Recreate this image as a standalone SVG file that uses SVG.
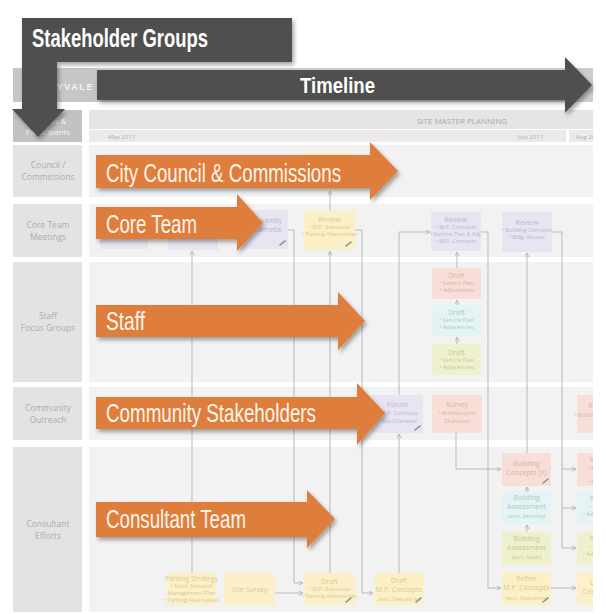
<svg xmlns="http://www.w3.org/2000/svg" width="606" height="614" viewBox="0 0 606 614">
<defs>
<style>
.row{fill:#f3f2f3}
.lab{fill:#e4e2e2}
.lt{font-family:"Open Sans","Noto Sans",sans-serif;font-size:8.5px;fill:#adadad;text-anchor:middle}
.bx text{font-family:"Open Sans","Noto Sans",sans-serif;font-size:5.6px;text-anchor:middle}
.bx text.h{font-size:7px}
.pu rect{fill:#e8e4f1}.pu text{fill:#bcb4d2}
.ye rect{fill:#fcf0c9}.ye text{fill:#d8c994}
.sa rect{fill:#f7ded6}.sa text{fill:#dab2a5}
.cy rect{fill:#e4f4f4}.cy text{fill:#abcaca}
.gr rect{fill:#eff0ce}.gr text{fill:#c8ca96}
.pen{stroke:#8a8a8a;stroke-width:1.6;stroke-linecap:round}
.cn{fill:none;stroke:#b9b9b9;stroke-width:1}
.cn path{marker-end:url(#ah)}
.oa{fill:#df7d3d;filter:url(#sh)}
.ot{font-family:"Liberation Sans",Arial,sans-serif;font-size:25px;fill:#fff5e9}
.da{fill:#4f4f4f;filter:url(#sh)}
.dt{font-family:"Liberation Sans",Arial,sans-serif;font-weight:bold;fill:#ffffff}
</style>
<marker id="ah" viewBox="0 0 6 6" refX="5.5" refY="3" markerWidth="5" markerHeight="5" orient="auto" markerUnits="userSpaceOnUse"><path d="M0.5,0.5 L5.5,3 L0.5,5.5" fill="none" stroke="#b5b5b5" stroke-width="1"/></marker>
<filter id="sh" x="-10%" y="-30%" width="125%" height="170%"><feDropShadow dx="2" dy="3" stdDeviation="2.2" flood-color="#000" flood-opacity="0.35"/></filter>
<clipPath id="cl"><rect x="0" y="0" width="593" height="614"/></clipPath>
</defs>
<rect width="606" height="614" fill="#ffffff"/>

<g id="header">
<rect x="13" y="68" width="580" height="34" fill="#cdcdcd"/>
<rect x="13" y="68" width="84" height="34" fill="#c6c6c6"/>
<text x="94" y="90" text-anchor="end" font-family="Liberation Sans,Arial,sans-serif" font-weight="bold" font-size="9" letter-spacing="1.6" fill="#f2f2f2">SUNNYVALE</text>
<rect x="13" y="110" width="69" height="32" fill="#c2c2c2"/>
<text x="48" y="124" text-anchor="middle" font-family="Open Sans,sans-serif" font-size="8" fill="#f4f4f4">Process &amp;</text>
<text x="48" y="135" text-anchor="middle" font-family="Open Sans,sans-serif" font-size="8" fill="#f4f4f4">Participants</text>
<rect x="89" y="110" width="504" height="19" fill="#e6e4e4"/>
<text x="462" y="124" text-anchor="middle" font-family="Open Sans,sans-serif" font-size="8" fill="#a9a9a9">SITE MASTER PLANNING</text>
<rect x="89" y="130" width="477" height="12" fill="#ebe9e9"/>
<rect x="569" y="130" width="24" height="12" fill="#ebe9e9"/>
<text x="108" y="139" font-family="Open Sans,sans-serif" font-size="6" fill="#b0b0b0">May 2017</text>
<text x="518" y="139" font-family="Open Sans,sans-serif" font-size="6" fill="#b0b0b0">July 2017</text>
<text x="576" y="139" font-family="Open Sans,sans-serif" font-size="6" fill="#b0b0b0" clip-path="url(#cl)">Aug 2017</text>
</g>

<g id="rows">
<rect class="lab" x="13" y="145" width="69" height="52"/><rect class="row" x="89" y="145" width="504" height="52"/>
<text class="lt" x="48" y="168">Council /</text><text class="lt" x="48" y="180">Commissions</text>
<rect class="lab" x="13" y="204" width="69" height="53"/><rect class="row" x="89" y="204" width="504" height="53"/>
<text class="lt" x="48" y="228">Core Team</text><text class="lt" x="48" y="240">Meetings</text>
<rect class="lab" x="13" y="262" width="69" height="120"/><rect class="row" x="89" y="262" width="504" height="120"/>
<text class="lt" x="48" y="319">Staff</text><text class="lt" x="48" y="331">Focus Groups</text>
<rect class="lab" x="13" y="387" width="69" height="53"/><rect class="row" x="89" y="387" width="504" height="53"/>
<text class="lt" x="48" y="411">Community</text><text class="lt" x="48" y="423">Outreach</text>
<rect class="lab" x="13" y="447" width="69" height="165"/><rect class="row" x="89" y="447" width="504" height="165"/>
<text class="lt" x="48" y="527">Consultant</text><text class="lt" x="48" y="539">Efforts</text>
</g>

<g class="cn" id="connectors">
<path d="M192,573 V251"/>
<path d="M288,230 H294 V583 H303"/>
<path d="M275,593 H303"/>
<path d="M330,573 V251"/>
<path d="M330,210 V191"/>
<path d="M355,230 H362 V593 H373"/>
<path d="M399,573 V434"/>
<path d="M399,395 V232 H430"/>
<path d="M481,232 H488 V588 H501"/>
<path d="M457,268 V252"/>
<path d="M457,305 V300"/>
<path d="M457,344 V337"/>
<path d="M456,433 V469 H501"/>
<path d="M527,453 V253"/>
<path d="M527,492 V487"/>
<path d="M527,532 V525"/>
<path d="M552,232 H562 V548" style="marker-end:none"/>
<path d="M562,469 H576"/>
<path d="M562,508 H576"/>
<path d="M562,548 H576"/>
<path d="M551,588 H576"/>
</g>

<g id="council-box" class="bx ye"><rect x="303" y="152" width="52" height="38"/></g>
<g id="core-1" class="bx pu"><rect x="100" y="212" width="48" height="37"/></g>
<g id="core-2" class="bx pu"><rect x="168" y="212" width="50" height="38"/></g>
<g id="feasibility" class="bx pu"><rect x="243" y="210" width="45" height="39"/><text class="h" x="266" y="223">Feasibility</text><text class="h" x="266" y="232">Charrette</text><path class="pen" d="M280,245 L285,241"/></g>
<g id="review-a" class="bx ye"><rect x="304" y="210" width="51" height="40"/><text class="h" x="329.5" y="222">Review</text><text x="329.5" y="229">• M.P. Scenarios</text><text x="329.5" y="236">• Parking Alternatives</text><path class="pen" d="M346,246 L351,242"/></g>
<g id="review-b" class="bx pu"><rect x="431" y="212" width="50" height="39"/><text class="h" x="456" y="222">Review</text><text x="456" y="229">• M.P. Concepts</text><text x="456" y="236">• Service Plan &amp; Adj.</text><text x="456" y="243">• M.P. Concepts</text></g>
<g id="review-c" class="bx pu"><rect x="502" y="212" width="50" height="40"/><text class="h" x="527" y="225">Review</text><text x="527" y="232">• Building Concepts</text><text x="527" y="239">• Bldg. Assess.</text></g>

<g id="draft-staff-1" class="bx sa"><rect x="432" y="268" width="49" height="31"/><text class="h" x="456.5" y="278">Draft</text><text x="456.5" y="285">• Service Plan</text><text x="456.5" y="292">• Adjacencies</text></g>
<g id="draft-staff-2" class="bx cy"><rect x="432" y="305" width="49" height="31"/><text class="h" x="456.5" y="315">Draft</text><text x="456.5" y="322">• Service Plan</text><text x="456.5" y="329">• Adjacencies</text></g>
<g id="draft-staff-3" class="bx gr"><rect x="432" y="344" width="49" height="31"/><text class="h" x="456.5" y="355">Draft</text><text x="456.5" y="362">• Service Plan</text><text x="456.5" y="369">• Adjacencies</text></g>

<g id="forum" class="bx pu"><rect x="372" y="395" width="51" height="38"/><text class="h" x="397.5" y="407">Forum</text><text x="397.5" y="415">• M.P. Concepts</text><text x="397.5" y="423">• Site Character</text><path class="pen" d="M415,430 L420,426"/></g>
<g id="survey" class="bx sa"><rect x="432" y="395" width="50" height="38"/><text class="h" x="457" y="407">Survey</text><text x="457" y="415">• Architectural</text><text x="457" y="423">Character</text></g>
<g id="review-d" class="bx sa" clip-path="url(#cl)"><rect x="577" y="395" width="30" height="38"/><text class="h" x="600" y="408">Review</text><text x="600" y="417">• Building Concepts</text></g>

<g id="building-concepts" class="bx sa"><rect x="502" y="453" width="49" height="33"/><text class="h" x="526.5" y="466">Building</text><text class="h" x="526.5" y="475">Concepts (X)</text><path class="pen" d="M543,483 L548,479"/></g>
<g id="assessment-1" class="bx cy"><rect x="502" y="492" width="49" height="32"/><text class="h" x="526.5" y="500">Building</text><text class="h" x="526.5" y="509">Assessment</text><text x="526.5" y="518">(excl. Security)</text></g>
<g id="assessment-2" class="bx gr"><rect x="502" y="532" width="49" height="33"/><text class="h" x="526.5" y="541">Building</text><text class="h" x="526.5" y="550">Assessment</text><text x="526.5" y="559">(excl. Solar)</text></g>
<g id="refine" class="bx ye"><rect x="502" y="572" width="49" height="33"/><text class="h" x="526.5" y="581">Refine</text><text class="h" x="526.5" y="590">M.P. Concepts</text><text x="526.5" y="600">(excl. Sequence)</text><path class="pen" d="M543,602 L548,598"/></g>

<g id="right-1" class="bx sa" clip-path="url(#cl)"><rect x="577" y="453" width="30" height="33"/><text class="h" x="600" y="462">Refine</text><text x="600" y="470">• Building</text><text x="600" y="477">• Site</text><text x="600" y="484">• Parking</text></g>
<g id="right-2" class="bx cy" clip-path="url(#cl)"><rect x="577" y="492" width="30" height="32"/><text class="h" x="600" y="501">Refine</text><text x="600" y="509">• Service</text><text x="600" y="516">• Adjacencies</text></g>
<g id="right-3" class="bx gr" clip-path="url(#cl)"><rect x="577" y="532" width="30" height="33"/><text class="h" x="600" y="541">Refine</text><text x="600" y="549">• Service</text><text x="600" y="556">• Adjacencies</text></g>
<g id="right-4" class="bx ye" clip-path="url(#cl)"><rect x="577" y="572" width="30" height="33"/><text class="h" x="598" y="585">Draft</text><text class="h" x="598" y="594">Concepts</text></g>

<g id="parking-strategy" class="bx ye"><rect x="167" y="573" width="49" height="32"/><text class="h" x="191.5" y="581">Parking Strategy</text><text x="191.5" y="588">• Static Demand</text><text x="191.5" y="595">Management Plan</text><text x="191.5" y="602">• Parking Alternatives</text></g>
<g id="site-survey" class="bx ye"><rect x="224" y="573" width="51" height="32"/><text class="h" x="249.5" y="592">Site Survey</text></g>
<g id="draft-a" class="bx ye"><rect x="304" y="573" width="51" height="32"/><text class="h" x="329.5" y="584">Draft</text><text x="329.5" y="591">• M.P. Scenarios</text><text x="329.5" y="598">• Parking Alternatives</text><path class="pen" d="M346,602 L351,598"/></g>
<g id="draft-b" class="bx ye"><rect x="374" y="573" width="50" height="32"/><text class="h" x="399" y="583">Draft</text><text class="h" x="399" y="592">M.P. Concepts</text><text x="399" y="601">(excl. Sequence)</text><path class="pen" d="M416,602 L421,598"/></g>

<g id="timeline-arrow">
<polygon class="da" points="97,70 565,70 565,57 592,85 565,113 565,100 97,100"/>
<text class="dt" x="300" y="93" font-size="22" textLength="75" lengthAdjust="spacingAndGlyphs">Timeline</text>
</g>
<g id="stakeholder-arrow">
<polygon class="da" points="22,18 292,18 292,62 57,62 57,109 65,109 38,137 12,109 22,109"/>
<text class="dt" x="32" y="47" font-size="25" textLength="176" lengthAdjust="spacingAndGlyphs">Stakeholder Groups</text>
</g>

<g id="arrow-council">
<polygon class="oa" points="96,155 370,155 370,142 398,171 370,200 370,188 96,188"/>
<text class="ot" x="106" y="182" textLength="235" lengthAdjust="spacingAndGlyphs">City Council &amp; Commissions</text>
</g>
<g id="arrow-core">
<polygon class="oa" points="96,207 237,207 237,194 263,223 237,251 237,239 96,239"/>
<text class="ot" x="106" y="233" textLength="91" lengthAdjust="spacingAndGlyphs">Core Team</text>
</g>
<g id="arrow-staff">
<polygon class="oa" points="96,305 338,305 338,292 365,321 338,350 338,337 96,337"/>
<text class="ot" x="106" y="330" textLength="39" lengthAdjust="spacingAndGlyphs">Staff</text>
</g>
<g id="arrow-community">
<polygon class="oa" points="96,397 357,397 357,383 385,413 357,445 357,429 96,429"/>
<text class="ot" x="106" y="422" textLength="210" lengthAdjust="spacingAndGlyphs">Community Stakeholders</text>
</g>
<g id="arrow-consultant">
<polygon class="oa" points="96,502 307,502 307,490 335,519 307,548 307,537 96,537"/>
<text class="ot" x="106" y="528" textLength="140" lengthAdjust="spacingAndGlyphs">Consultant Team</text>
</g>
</svg>
